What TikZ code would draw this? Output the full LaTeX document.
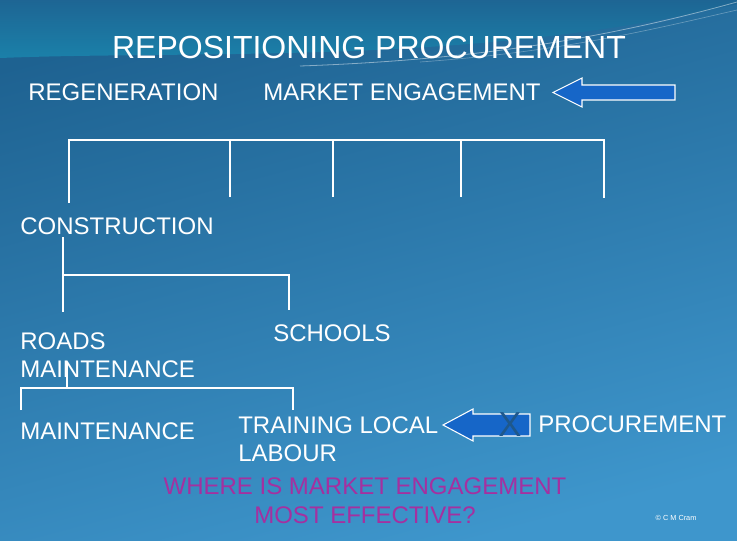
\documentclass[tikz,border=0pt]{standalone}
\usepackage{fontspec}
\setmainfont{Liberation Sans}
\usetikzlibrary{calc}

\definecolor{skytop}{RGB}{30,98,145}
\definecolor{skybottom}{RGB}{62,150,204}
\definecolor{teal}{RGB}{26,132,172}
\definecolor{arrowblue}{RGB}{22,102,200}
\definecolor{crossblue}{RGB}{30,88,140}
\definecolor{askpurple}{RGB}{165,48,160}

\tikzset{
  lbl/.style={text=white,font=\fontsize{18}{21}\selectfont,inner sep=0pt,anchor=base west},
  ask/.style={text=askpurple,font=\fontsize{18}{21}\selectfont,inner sep=0pt,anchor=base},
  tree/.style={draw=white,line width=1pt},
  blockarrow/.style={fill=arrowblue,draw=white,line width=0.8pt,line join=miter}
}

\begin{document}
\begin{tikzpicture}[x=0.75pt,y=-0.75pt]

% background
\useasboundingbox (0,0) rectangle (737,540);
\shade[top color=skytop,bottom color=skybottom,shading angle=15] (0,0) rectangle (737,540);
\shade[top color=skytop!90!teal,bottom color=teal] (0,0) -- (0,58) .. controls (200,50) and (470,66) .. (737,4) -- (737,0) -- cycle;
\draw[white,opacity=0.45,line width=0.6] (300,66) .. controls (470,60) and (600,40) .. (737,2);
\draw[white,opacity=0.3,line width=0.5] (420,62) .. controls (560,52) and (650,30) .. (737,10);

\node[text=white,font=\fontsize{24}{26}\selectfont,inner sep=0pt,anchor=base] (title) at (369,58.5) {REPOSITIONING PROCUREMENT};

\node[lbl] (regen) at (28,100) {REGENERATION};
\node[lbl] (market) at (263,100) {MARKET ENGAGEMENT};
\draw[blockarrow] (553,92.5) -- (582,78) -- (582,85) -- (675,85) -- (675,100) -- (582,100) -- (582,107) -- cycle;

\draw[tree] (69,203) -- (69,140) -- (604,140) -- (604,198);
\foreach \x in {230,333,461}
  \draw[tree] (\x,140) -- (\x,197);

\node[lbl] (constr) at (20,234.5) {CONSTRUCTION};
\coordinate (cfork) at (63,275);
\draw[tree] (63,237) -- (63,312);
\draw[tree] (cfork) -- (289,275) -- (289,310);

\node[lbl] (schools) at (273,341.5) {SCHOOLS};
% base of a two-line node sits on its last line
\node[lbl,align=left] (roads) at (20,377.5) {ROADS\\MAINTENANCE};

\coordinate (rfork) at (67,388);
\draw[tree] (67,362) -- (rfork);
\draw[tree] (21,410) -- (21,388) -- (293,388) -- (293,410);

\node[lbl] (maint) at (20,439.5) {MAINTENANCE};
\node[lbl,align=left] (train) at (238,461.5) {TRAINING LOCAL\\LABOUR};
\draw[blockarrow] (443,425) -- (473,409) -- (473,414) -- (530,414) -- (530,436) -- (473,436) -- (473,441) -- cycle;
\node[text=crossblue,font=\fontsize{26}{28}\selectfont,inner sep=0pt] (cross) at (510,425) {X};
\node[lbl] (proc) at (538,432.5) {PROCUREMENT};

\node[ask] (where) at (365,494.5) {WHERE IS MARKET ENGAGEMENT};
\node[ask] (most) at (365,523.5) {MOST EFFECTIVE?};

\node[text=white,font=\fontsize{5.5}{6}\selectfont,inner sep=0pt,anchor=base] (copy) at (676,520) {© C M Cram};

\end{tikzpicture}
\end{document}
